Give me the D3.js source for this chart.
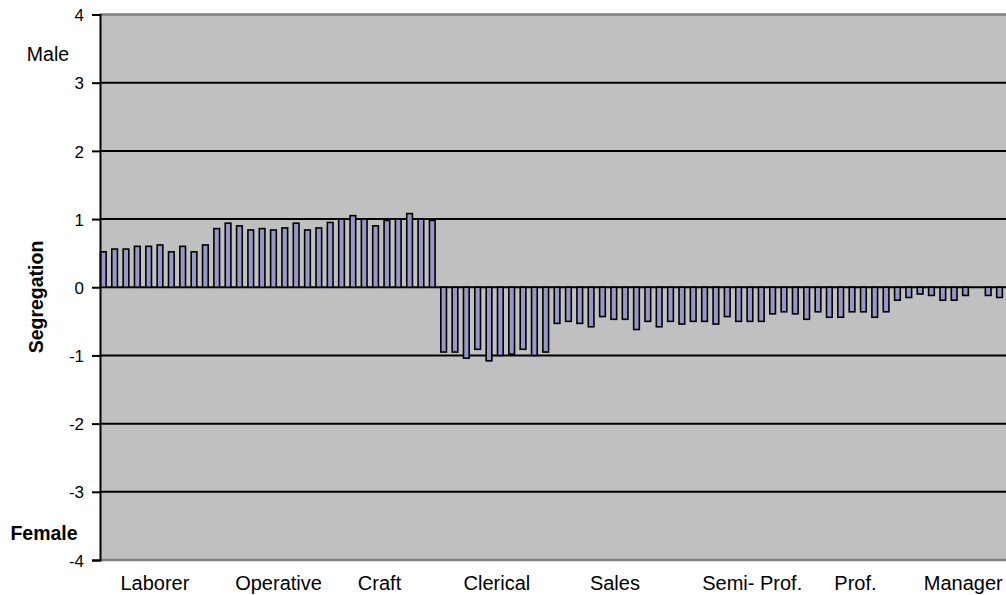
<!DOCTYPE html>
<html>
<head>
<meta charset="utf-8">
<script src="https://cdn.jsdelivr.net/npm/d3@7"></script>
<style>
  body { margin: 0; background: #fff; }
  svg { display: block; font-family: "Liberation Sans", Arial, sans-serif; }
</style>
</head>
<body>
<div id="chart"></div>
<script>
// segregation score per occupation (80 occupations, ordered by group)
const values = [
  0.52, 0.56, 0.56, 0.60, 0.60, 0.62, 0.52, 0.60, 0.52, 0.62,
  0.86, 0.94, 0.90, 0.84, 0.86, 0.84, 0.87, 0.94, 0.84, 0.87,
  0.95, 1.00, 1.05, 1.00, 0.90, 0.98, 1.00, 1.08, 1.00, 0.98,
  -0.95, -0.95, -1.04, -0.91, -1.08, -1.00, -0.98, -0.91, -1.00, -0.95,
  -0.53, -0.50, -0.53, -0.58, -0.43, -0.47, -0.47, -0.62, -0.50, -0.58,
  -0.50, -0.54, -0.50, -0.50, -0.54, -0.43, -0.50, -0.50, -0.50, -0.39,
  -0.36, -0.39, -0.47, -0.36, -0.44, -0.44, -0.36, -0.36, -0.44, -0.36,
  -0.19, -0.15, -0.10, -0.12, -0.19, -0.19, -0.12, 0, -0.12, -0.15
];

// occupation group labels and where they sit (in occupation index units)
const groupLabels = ["Laborer", "Operative", "Craft", "Clerical", "Sales", "Semi- Prof.", "Prof.", "Manager"];
const groupAt = [4.55, 15.45, 24.35, 34.7, 45.1, 57.2, 66.3, 75.8];

const yTicks = [-4, -3, -2, -1, 0, 1, 2, 3, 4];

const width = 1006;
const height = 595;
const plot = { left: 100, right: 1006, top: 14.5, bottom: 560 };

const svg = d3.select("#chart")
  .append("svg")
  .attr("width", width)
  .attr("height", height);

const x = d3.scaleBand()
  .domain(d3.range(values.length))
  .range([97.6, 1005.2])
  .paddingInner(0.5)
  .paddingOuter(0.25);

const y = d3.scaleLinear()
  .domain([-4, 4])
  .range([plot.bottom, plot.top]);

const xi = d3.scaleLinear()
  .domain([0, values.length - 1])
  .range([x(0) + x.bandwidth() / 2, x(values.length - 1) + x.bandwidth() / 2]);

// plot background
svg.append("rect")
  .attr("x", plot.left)
  .attr("y", plot.top)
  .attr("width", plot.right - plot.left)
  .attr("height", plot.bottom - plot.top)
  .attr("fill", "#c0c0c0");

// gridlines
svg.append("g")
  .selectAll("line")
  .data(yTicks)
  .join("line")
  .attr("x1", plot.left)
  .attr("x2", plot.right)
  .attr("y1", d => y(d))
  .attr("y2", d => y(d))
  .attr("stroke", d => Math.abs(d) === 4 ? "#808080" : "#000")
  .attr("stroke-width", d => Math.abs(d) === 4 ? 2.5 : 2);

// bars
svg.append("g")
  .selectAll("rect")
  .data(values)
  .join("rect")
  .attr("x", (d, i) => x(i))
  .attr("y", d => y(Math.max(0, d)))
  .attr("width", x.bandwidth())
  .attr("height", d => Math.abs(y(d) - y(0)))
  .attr("fill", "#9797c9")
  .attr("stroke", "#000")
  .attr("stroke-width", 1.6);

// y axis
const yAxis = svg.append("g")
  .attr("transform", `translate(${plot.left},0)`)
  .call(d3.axisLeft(y).tickValues(yTicks).tickSize(8).tickPadding(8).tickFormat(d => String(d)));
yAxis.select(".domain").attr("stroke", "#000").attr("stroke-width", 2);
yAxis.selectAll(".tick line").attr("stroke", "#000").attr("stroke-width", 2);
yAxis.selectAll(".tick text")
  .attr("fill", "#000")
  .style("font-size", "17px")
  .style("font-family", "'Liberation Sans', Arial, sans-serif")
  .attr("dy", "0.36em");

// x group labels
svg.append("g")
  .selectAll("text")
  .data(groupLabels)
  .join("text")
  .attr("x", (d, i) => xi(groupAt[i]))
  .attr("y", 590)
  .attr("text-anchor", "middle")
  .style("font-size", "20px")
  .attr("fill", "#000")
  .text(d => d);

// axis titles
svg.append("text")
  .attr("transform", `translate(43, 297) rotate(-90)`)
  .attr("text-anchor", "middle")
  .style("font-size", "19.5px")
  .style("font-weight", "bold")
  .text("Segregation");

svg.append("text")
  .attr("x", 48)
  .attr("y", 61)
  .attr("text-anchor", "middle")
  .style("font-size", "19.5px")
  .text("Male");

svg.append("text")
  .attr("x", 44)
  .attr("y", 540)
  .attr("text-anchor", "middle")
  .style("font-size", "19.5px")
  .style("font-weight", "bold")
  .text("Female");
</script>
</body>
</html>
